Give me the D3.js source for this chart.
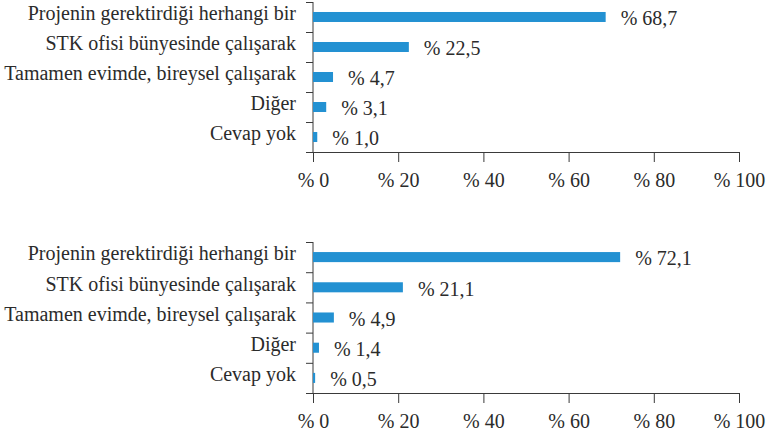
<!DOCTYPE html>
<html lang="tr">
<head>
  <meta charset="utf-8">
  <title>Çalışma yeri</title>
  <script src="https://cdn.jsdelivr.net/npm/d3@7"></script>
  <style>
    body { margin: 0; background: #fff; }
  </style>
</head>
<body>
<div id="chart"></div>
<script>
const w = 768;
const h = 437;

const categories = [
  "Projenin gerektirdiği herhangi bir",
  "STK ofisi bünyesinde çalışarak",
  "Tamamen evimde, bireysel çalışarak",
  "Diğer",
  "Cevap yok"
];
const valuesTop = [68.7, 22.5, 4.7, 3.1, 1.0];
const valuesBottom = [72.1, 21.1, 4.9, 1.4, 0.5];
const tickValues = [0, 20, 40, 60, 80, 100];

const fontFamily = "'Liberation Serif', 'Times New Roman', serif";
const fontSize = "20px";
const barColor = "#2391d2";
const textColor = "#2b2b2b";
const lineColor = "#3a3a3a";

const svg = d3.select("#chart").append("svg")
  .attr("width", w)
  .attr("height", h);

const x = d3.scaleLinear().domain([0, 100]).range([313, 739]);
const fmt = v => "% " + v.toFixed(1).replace(".", ",");

function drawPanel(values, top, bottom) {
  const y = d3.scaleBand()
    .domain(categories)
    .range([top, bottom])
    .paddingInner(0.667)
    .paddingOuter(0.333);

  const g = svg.append("g");
  const step = y.step();

  // y axis line with ticks between the categories
  g.append("line")
    .attr("x1", x(0)).attr("x2", x(0))
    .attr("y1", top).attr("y2", bottom)
    .attr("stroke", lineColor);
  g.selectAll("line.ytick")
    .data(d3.range(categories.length))
    .enter().append("line")
    .attr("class", "ytick")
    .attr("x1", x(0) - 7).attr("x2", x(0))
    .attr("y1", i => top + i * step + 0.5)
    .attr("y2", i => top + i * step + 0.5)
    .attr("stroke", lineColor);

  // bars
  g.selectAll("rect")
    .data(values)
    .enter().append("rect")
    .attr("x", x(0))
    .attr("y", (d, i) => y(categories[i]))
    .attr("width", d => x(d) - x(0))
    .attr("height", y.bandwidth())
    .attr("fill", barColor);

  // value labels
  g.selectAll("text.val")
    .data(values)
    .enter().append("text")
    .attr("class", "val")
    .attr("x", d => x(d) + 15)
    .attr("y", (d, i) => y(categories[i]) + y.bandwidth() / 2)
    .attr("dy", "0.42em")
    .style("font-family", fontFamily)
    .style("font-size", fontSize)
    .attr("fill", textColor)
    .text(fmt);

  // category labels
  g.selectAll("text.cat")
    .data(categories)
    .enter().append("text")
    .attr("class", "cat")
    .attr("x", 296)
    .attr("y", d => y(d) + y.bandwidth() / 2)
    .attr("dy", "0.17em")
    .attr("text-anchor", "end")
    .style("font-family", fontFamily)
    .style("font-size", fontSize)
    .attr("fill", textColor)
    .text(d => d);

  // x axis
  const xAxis = d3.axisBottom(x)
    .tickValues(tickValues)
    .tickSize(10)
    .tickSizeOuter(0)
    .tickPadding(11)
    .tickFormat(d => "% " + d);

  const ax = g.append("g")
    .attr("transform", `translate(0,${bottom})`)
    .call(xAxis);
  ax.select(".domain").attr("d", `M306,0.5H${x(100)}`).attr("stroke", lineColor);
  ax.selectAll(".tick line").attr("stroke", lineColor);
  ax.selectAll("text")
    .style("font-family", fontFamily)
    .style("font-size", fontSize)
    .attr("fill", textColor);
}

drawPanel(valuesTop, 2, 152);
drawPanel(valuesBottom, 242, 393);
</script>
</body>
</html>
